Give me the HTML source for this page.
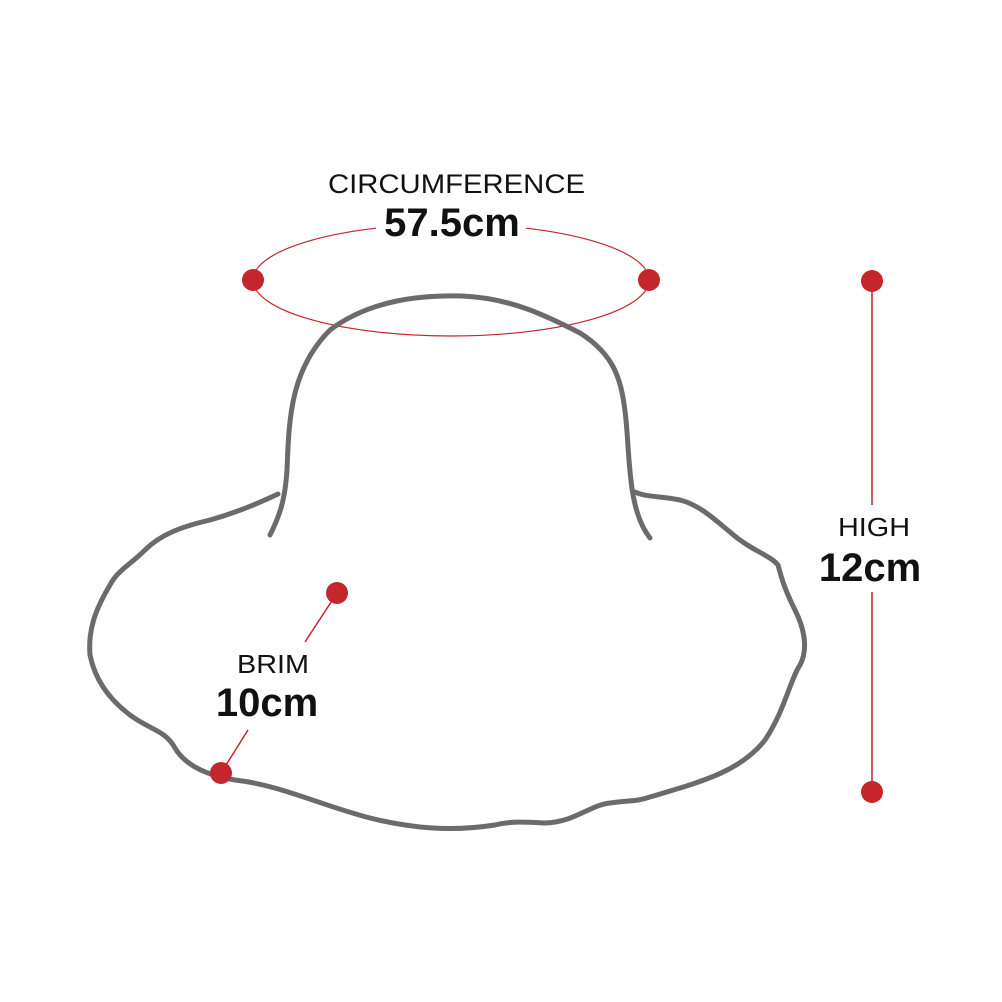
<!DOCTYPE html>
<html><head><style>
html,body{margin:0;padding:0;background:#fff;}
svg{display:block;}
text{font-family:"Liberation Sans",sans-serif;}
</style></head><body>
<svg width="1002" height="1002" viewBox="0 0 1002 1002">
<rect width="1002" height="1002" fill="#fff"/>
<ellipse cx="451" cy="280" rx="198" ry="56" fill="none" stroke="#c4262e" stroke-width="1.2"/>
<rect x="376" y="205" width="150" height="40" fill="#fff"/>
<g fill="none" stroke="#6b6b6b" stroke-width="5" stroke-linecap="round" stroke-linejoin="round">
<path d="M270,535 C280,515 285,500 287,470 C289,420 290,370 330,330 C370,300 420,295 462,296 C510,298 545,315 580,333 C615,355 622,380 626,420 C630,460 628,510 650,538"/>
<path d="M278,494 C255,505 235,513 210,520 C180,527 160,535 145,550 C130,565 118,570 110,585 C95,610 88,630 90,655 C95,680 110,700 130,715 C150,730 165,730 175,748 C185,765 205,775 235,780 C280,785 320,805 370,818 C410,828 450,832 495,825 C510,821 525,822 545,823 C575,822 590,805 610,803 C630,800 635,802 650,797 C700,782 740,772 765,740 C785,710 790,680 800,665 C808,650 805,630 795,610 C785,590 782,580 778,565 C770,555 750,550 730,532 C715,520 700,505 680,500 C660,496 645,497 635,492"/>
</g>
<g fill="#c4262e">
<circle cx="253" cy="280" r="11"/>
<circle cx="649" cy="280" r="11"/>
<circle cx="872" cy="281" r="11"/>
<circle cx="872" cy="792" r="11"/>
<circle cx="337" cy="593" r="11"/>
<circle cx="221" cy="773" r="11"/>
</g>
<g stroke="#c4262e" stroke-width="1.5">
<line x1="872" y1="281" x2="872" y2="505"/>
<line x1="872" y1="592" x2="872" y2="792"/>
<line x1="337" y1="593" x2="305" y2="642"/>
<line x1="248" y1="730" x2="221" y2="773"/>
</g>
<g fill="#111">
<text x="328" y="193" font-size="27" textLength="257" lengthAdjust="spacingAndGlyphs">CIRCUMFERENCE</text>
<text x="452" y="236" font-size="40" font-weight="bold" text-anchor="middle">57.5cm</text>
<text x="838" y="536" font-size="26" textLength="72" lengthAdjust="spacingAndGlyphs">HIGH</text>
<text x="870" y="581" font-size="40" font-weight="bold" text-anchor="middle">12cm</text>
<text x="237" y="673" font-size="26" textLength="72" lengthAdjust="spacingAndGlyphs">BRIM</text>
<text x="267" y="716" font-size="40" font-weight="bold" text-anchor="middle">10cm</text>
</g>
</svg>
</body></html>
